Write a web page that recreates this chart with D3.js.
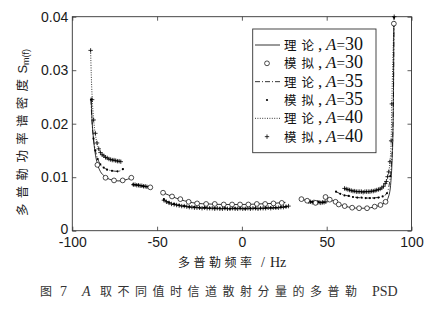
<!DOCTYPE html>
<html>
<head>
<meta charset="utf-8">
<script src="https://cdn.jsdelivr.net/npm/d3@7"></script>
<style>
body { margin: 0; background: #fff; }
svg { display: block; }
</style>
</head>
<body>
<svg id="chart" width="433" height="309"></svg>
<script>
// axis ticks
var xTicks = [-100, -50, 0, 50, 100];
var xTickLabels = ["-100", "-50", "0", "50", "100"];
var yTicks = [0, 0.01, 0.02, 0.03, 0.04];
var yTickLabels = ["0", "0.01", "0.02", "0.03", "0.04"];

// legend entries
var legendNames = ["理论", "模拟", "理论", "模拟", "理论", "模拟"];
var legendA = ["30", "30", "35", "35", "40", "40"];

// theory curves [f (Hz), PSD], one array per piece
var theory30 = [
  [[-88.9,0.0249],[-88.4,0.0210],[-87.6,0.0175],[-86.6,0.0147],[-85.2,0.0125],[-83.5,0.0111],[-81,0.0102],[-78,0.0096],[-75.4,0.0094],[-72.5,0.0093],[-70.3,0.0094],[-67.5,0.0096],[-65.2,0.0099]],
  [[-64.5,0.0087],[-61,0.0085],[-57.5,0.0083],[-54,0.0081]],
  [[-46.5,0.0071],[-43.5,0.0067],[-41.2,0.0064],[-36.3,0.0058],[-31.4,0.0054],[-26.4,0.0051],[-20,0.0050],[-10,0.0049],[0,0.0049],[10,0.0050],[18,0.0051],[25.7,0.0053]],
  [[35.1,0.0059],[38.5,0.0056],[43.4,0.0052]],
  [[49.3,0.0063],[51.8,0.0058],[55.2,0.0054],[57.1,0.0050],[60.6,0.0046],[65,0.0043],[69.1,0.0042],[73.8,0.0042],[78.3,0.0045],[81.7,0.0048],[84.7,0.0054],[86.6,0.0065],[87.8,0.0090],[88.6,0.0135],[89.1,0.0190],[89.4,0.0270],[89.6,0.0387]]
];
var theory35 = [
  [[-89.0,0.0245],[-88.5,0.0210],[-87.8,0.0180],[-86.9,0.0158],[-85.6,0.0140],[-83.5,0.0124],[-80.5,0.0116],[-76.6,0.0112],[-73.3,0.0111],[-71,0.0113],[-69.7,0.0116]],
  [[-64.8,0.0087],[-61,0.0085],[-57.5,0.0083],[-54.5,0.0082]],
  [[-46.2,0.0058],[-42,0.0052],[-37,0.0048],[-30,0.0045],[-20,0.0043],[-10,0.0042],[0,0.0042],[10,0.0042],[20,0.0043],[27.4,0.0046]],
  [[38.5,0.0055],[43.4,0.0054],[49,0.0053]],
  [[55.5,0.0073],[58,0.0069],[61,0.0066],[64.5,0.0064],[68,0.0062],[74,0.0061],[80,0.0062],[83,0.0064],[85.5,0.0070],[86.8,0.0085],[87.8,0.0110],[88.6,0.0150],[89.2,0.0220],[89.5,0.0300],[89.7,0.0398]]
];
var theory40 = [
  [[-89.2,0.0337],[-88.8,0.0290],[-88.3,0.0250],[-87.4,0.0207],[-86.4,0.0180],[-85.4,0.0163],[-84,0.0150],[-82.5,0.0143],[-79.5,0.0136],[-76.5,0.0132],[-73.6,0.0130],[-71.5,0.0129]],
  [[-64,0.0086],[-61,0.0085],[-58,0.0083],[-55.5,0.0082]],
  [[-46.5,0.0057],[-43,0.0051],[-38,0.0047],[-30,0.0044],[-20,0.0042],[-10,0.0041],[0,0.0041],[10,0.0041],[20,0.0042],[27.4,0.0045]],
  [[40,0.0054],[44.5,0.0053],[49.3,0.0053]],
  [[60.5,0.0079],[63,0.0076],[66,0.0074],[70,0.0073],[75,0.0073],[79.8,0.0075],[82.5,0.0080],[84.5,0.0088],[85.6,0.0098],[86.6,0.0110],[87.3,0.0129],[88,0.0168],[88.4,0.0237],[89,0.0320],[89.8,0.0400]]
];

// simulated points
var sim30 = [
  [-85.2,0.0123],[-80.4,0.0099],[-75.4,0.0094],[-70.3,0.0094],[-65.2,0.0099],
  [-54,0.0081],
  [-46.5,0.0071],[-41.2,0.0064],[-36.3,0.0059],[-31.4,0.0054],[-26.4,0.0051],[-21.1,0.0050],[-16,0.0050],[-10.7,0.0049],[-5.8,0.0049],[-1.1,0.0049],[3.8,0.0049],[8.8,0.0050],[13.7,0.0050],[18.6,0.0051],[23.5,0.0052],
  [35.1,0.0059],[38.5,0.0056],[43.4,0.0052],
  [49.3,0.0063],[51.8,0.0058],[55.2,0.0054],[57.1,0.0049],[60.6,0.0046],[65,0.0043],[69.1,0.0042],[73.8,0.0042],[78.3,0.0045],[81.7,0.0048],[84.7,0.0054],[89.6,0.0387]
];
var sim35 = [
  [-88.9,0.0245],[-87.5,0.0172],[-86.4,0.0150],[-85,0.0134],[-83.5,0.0124],[-81.5,0.0118],[-79.5,0.0114],[-76.6,0.0112],[-73.3,0.0111],[-70.2,0.0115],
  [-64,0.0086],[-61,0.0085],[-58,0.0083],[-55,0.0082],
  [-46,0.0059],[-43,0.0053],[-40,0.0050],[-37,0.0048],[-34,0.0046],[-31,0.0045],[-28,0.0044],[-25,0.0043],[-22,0.0043],[-19,0.0042],[-16,0.0042],[-13,0.0042],[-10,0.0042],[-7,0.0041],[-4,0.0042],[-1,0.0042],[2,0.0041],[5,0.0042],[8,0.0042],[11,0.0042],[14,0.0043],[17,0.0043],[20,0.0043],[23,0.0044],[26,0.0045],
  [39,0.0055],[42,0.0054],[45,0.0054],[48,0.0053],
  [55.5,0.0073],[58,0.0069],[60.5,0.0066],[63,0.0065],[65.5,0.0063],[68,0.0062],[70.5,0.0062],[73,0.0061],[75.5,0.0061],[78,0.0061],[80.5,0.0062],[83,0.0064],[85.5,0.0070],[87.5,0.0102],[89.7,0.0398]
];
var sim40 = [
  [-89.2,0.0337],[-88.3,0.0245],[-87.4,0.0207],[-86.4,0.0182],[-85.4,0.0164],[-84.4,0.0153],[-83.4,0.0146],[-82.4,0.0142],[-81.4,0.0140],[-80.4,0.0137],[-79.4,0.0136],[-78.4,0.0134],[-77.4,0.0133],[-76.4,0.0132],[-75.4,0.0132],[-74.4,0.0131],[-73.4,0.0130],[-72.4,0.0130],[-71.4,0.0129],
  [-64,0.0086],[-63,0.0086],[-62,0.0085],[-61,0.0085],[-60,0.0084],[-59,0.0084],[-58,0.0083],[-57,0.0083],[-56,0.0082],
  [-46,0.0057],[-44.5,0.0054],[-43,0.0052],[-41.5,0.0050],[-40,0.0049],[-38.5,0.0048],[-37,0.0047],[-35.5,0.0046],[-34,0.0046],[-32.5,0.0045],[-31,0.0044],[-29.5,0.0044],[-28,0.0043],[-26.5,0.0043],[-25,0.0043],[-23.5,0.0042],[-22,0.0043],[-20.5,0.0042],[-19,0.0042],[-17.5,0.0042],[-16,0.0041],[-14.5,0.0042],[-13,0.0041],[-11.5,0.0041],[-10,0.0042],[-8.5,0.0041],[-7,0.0041],[-5.5,0.0042],[-4,0.0041],[-2.5,0.0041],[-1,0.0042],[0.5,0.0041],[2,0.0041],[3.5,0.0042],[5,0.0041],[6.5,0.0042],[8,0.0042],[9.5,0.0041],[11,0.0042],[12.5,0.0042],[14,0.0042],[15.5,0.0043],[17,0.0042],[18.5,0.0043],[20,0.0043],[21.5,0.0043],[23,0.0044],[24.5,0.0044],[26,0.0045],[27.5,0.0046],
  [39.5,0.0054],[40.5,0.0054],[41.5,0.0053],[42.5,0.0054],[43.5,0.0053],[44.5,0.0053],[45.5,0.0053],[46.5,0.0052],[47.5,0.0053],[48.5,0.0053],[49.5,0.0054],
  [60.5,0.0079],[61.5,0.0078],[62.5,0.0077],[63.5,0.0076],[64.5,0.0075],[65.5,0.0074],[66.5,0.0074],[67.5,0.0073],[68.5,0.0073],[69.5,0.0073],[70.5,0.0073],[71.5,0.0072],[72.5,0.0073],[73.5,0.0073],[74.5,0.0073],[75.5,0.0073],[76.5,0.0074],[77.5,0.0074],[78.5,0.0075],[79.5,0.0076],[80.5,0.0077],[81.5,0.0078],[82.5,0.0080],[83.5,0.0083],[84.5,0.0088],[85.2,0.0092],[85.9,0.0101],[86.6,0.0110],[87.3,0.0129],[88,0.0168],[88.4,0.0237],[89.8,0.0400]
];

var cjk = "'Noto Sans CJK SC', sans-serif",
    serif = "'Liberation Serif', 'Times New Roman', serif",
    sans = "'Liberation Sans', Arial, sans-serif";

// plot box edges (px)
var svg = d3.select("#chart"),
    plotL = 72.3, plotR = 411.5, plotT = 16.7, plotB = 230.7;

var x = d3.scaleLinear().domain([-100, 100]).range([plotL, plotR]);
var y = d3.scaleLinear().domain([0, 0.04]).range([plotB, plotT]);

// axes, ticks pointing inward
var gx = svg.append("g")
    .attr("transform", "translate(0," + plotB + ")")
    .call(d3.axisBottom(x).tickValues(xTicks).tickSize(-4).tickPadding(6.5)
      .tickFormat(function(d, i) { return xTickLabels[i]; }));
var gy = svg.append("g")
    .attr("transform", "translate(" + plotL + ",0)")
    .call(d3.axisLeft(y).tickValues(yTicks).tickSize(-4).tickPadding(4)
      .tickFormat(function(d, i) { return yTickLabels[i]; }));
var gt = svg.append("g")
    .attr("transform", "translate(0," + plotT + ")")
    .call(d3.axisTop(x).tickValues(xTicks).tickSize(-4).tickFormat(""));
var gr = svg.append("g")
    .attr("transform", "translate(" + plotR + ",0)")
    .call(d3.axisRight(y).tickValues(yTicks).tickSize(-4).tickFormat(""));

[gx, gy, gt, gr].forEach(function(g) {
  g.select(".domain").remove();
  g.selectAll(".tick line").attr("stroke", "#333").attr("stroke-width", 0.8);
  g.selectAll(".tick text")
    .attr("fill", "#1a1a1a")
    .style("font-family", sans)
    .style("font-size", "14px");
});
// lift the "0" label a touch so it clears "-100"
gy.selectAll(".tick text").filter(function(d) { return d == 0; }).attr("dy", "0.22em");

svg.append("rect")
    .attr("x", plotL).attr("y", plotT)
    .attr("width", plotR - plotL).attr("height", plotB - plotT)
    .attr("fill", "none").attr("stroke", "#333").attr("stroke-width", 0.9);

var line = d3.line()
    .x(function(d) { return x(d[0]); })
    .y(function(d) { return y(d[1]); })
    .curve(d3.curveMonotoneX);

var styles = [
  {pieces: theory30, dash: null},
  {pieces: theory35, dash: "5,2,1,2"},
  {pieces: theory40, dash: "1,1.4"}
];

styles.forEach(function(s) {
  svg.append("g").selectAll("path")
      .data(s.pieces)
    .enter().append("path")
      .attr("d", line)
      .attr("fill", "none")
      .attr("stroke", "#000")
      .attr("stroke-width", 0.8)
      .attr("stroke-dasharray", s.dash);
});

function plusPath(px, py, r) {
  return "M" + (px - r) + "," + py + "H" + (px + r) + "M" + px + "," + (py - r) + "V" + (py + r);
}

// simulated markers
svg.append("g").selectAll("path")
    .data(sim40)
  .enter().append("path")
    .attr("d", function(d) { return plusPath(x(d[0]), y(d[1]), 2.2); })
    .attr("stroke", "#000")
    .attr("stroke-width", 0.8);

svg.append("g").selectAll("circle")
    .data(sim35)
  .enter().append("circle")
    .attr("cx", function(d) { return x(d[0]); })
    .attr("cy", function(d) { return y(d[1]); })
    .attr("r", 1.1)
    .attr("fill", "#000");

svg.append("g").selectAll("circle")
    .data(sim30)
  .enter().append("circle")
    .attr("cx", function(d) { return x(d[0]); })
    .attr("cy", function(d) { return y(d[1]); })
    .attr("r", 2.4)
    .attr("fill", "#fff")
    .attr("stroke", "#000")
    .attr("stroke-width", 0.7);

// legend
var lg = svg.append("g");
lg.append("rect")
    .attr("x", 252.7).attr("y", 29)
    .attr("width", 123.3).attr("height", 123.7)
    .attr("fill", "#fff").attr("stroke", "#333").attr("stroke-width", 0.9);

var rows = lg.selectAll("g.row")
    .data(legendNames)
  .enter().append("g")
    .attr("class", "row")
    .attr("transform", function(d, i) { return "translate(0," + (45 + i * 18.33) + ")"; });

rows.each(function(d, i) {
  var g = d3.select(this);
  var k = Math.floor(i / 2);
  if (i % 2 == 0) {
    g.append("line")
      .attr("x1", 255).attr("x2", 280)
      .attr("stroke", "#000").attr("stroke-width", 0.8)
      .attr("stroke-dasharray", styles[k].dash);
  } else if (k == 0) {
    g.append("circle").attr("cx", 267).attr("r", 2.4)
      .attr("fill", "#fff").attr("stroke", "#000").attr("stroke-width", 0.7);
  } else if (k == 1) {
    g.append("circle").attr("cx", 267).attr("r", 1.1).attr("fill", "#000");
  } else {
    g.append("path").attr("d", plusPath(267, 0, 2.2))
      .attr("stroke", "#000").attr("stroke-width", 0.8);
  }
  var t = g.append("text").attr("y", 5).attr("fill", "#111");
  t.append("tspan").attr("x", 284)
    .style("font-family", cjk).style("font-size", "12.5px")
    .text(d.charAt(0));
  t.append("tspan").attr("x", 301.5)
    .style("font-family", cjk).style("font-size", "12.5px")
    .text(d.charAt(1));
  t.append("tspan").attr("x", 318)
    .style("font-family", serif).style("font-size", "17px").text(",");
  t.append("tspan").attr("x", 326)
    .style("font-family", serif).style("font-size", "17px").style("font-style", "italic").text("A");
  t.append("tspan").attr("x", 336.5)
    .style("font-family", serif).style("font-size", "15px").text("=");
  t.append("tspan").attr("x", 345)
    .style("font-family", serif).style("font-size", "18px").text(legendA[i]);
});

// y axis title
var yt = svg.append("text")
    .attr("transform", "rotate(-90)")
    .attr("x", -216).attr("y", 27)
    .attr("fill", "#222");
yt.append("tspan")
    .style("font-family", cjk).style("font-size", "12.5px").style("letter-spacing", "5.3px")
    .text("多普勒功率谱密度");
yt.append("tspan")
    .style("font-family", sans).style("font-size", "13px").text("S");
yt.append("tspan")
    .attr("dy", 2)
    .style("font-family", sans).style("font-size", "9px").text("m");
yt.append("tspan")
    .style("font-family", sans).style("font-size", "9px").text("(f)");

// x axis title
var xt = svg.append("text").attr("y", 267).attr("fill", "#222");
xt.append("tspan").attr("x", 178)
    .style("font-family", cjk).style("font-size", "12px").style("letter-spacing", "3.5px")
    .text("多普勒频率");
xt.append("tspan").attr("x", 261)
    .style("font-family", serif).style("font-size", "14px").text("/");
xt.append("tspan").attr("x", 270)
    .style("font-family", serif).style("font-size", "14px").text("Hz");

// caption
var cap = svg.append("text").attr("y", 296).attr("fill", "#333");
cap.append("tspan").attr("x", 40)
    .style("font-family", cjk).style("font-size", "12px").text("图");
cap.append("tspan").attr("x", 60)
    .style("font-family", serif).style("font-size", "14px").text("7");
cap.append("tspan").attr("x", 82)
    .style("font-family", serif).style("font-size", "14px").style("font-style", "italic").text("A");
cap.append("tspan").attr("x", 100)
    .style("font-family", cjk).style("font-size", "12px").style("letter-spacing", "5.5px")
    .text("取不同值时信道散射分量的多普勒");
cap.append("tspan").attr("x", 372)
    .style("font-family", serif).style("font-size", "14px").text("PSD");
</script>
</body>
</html>
